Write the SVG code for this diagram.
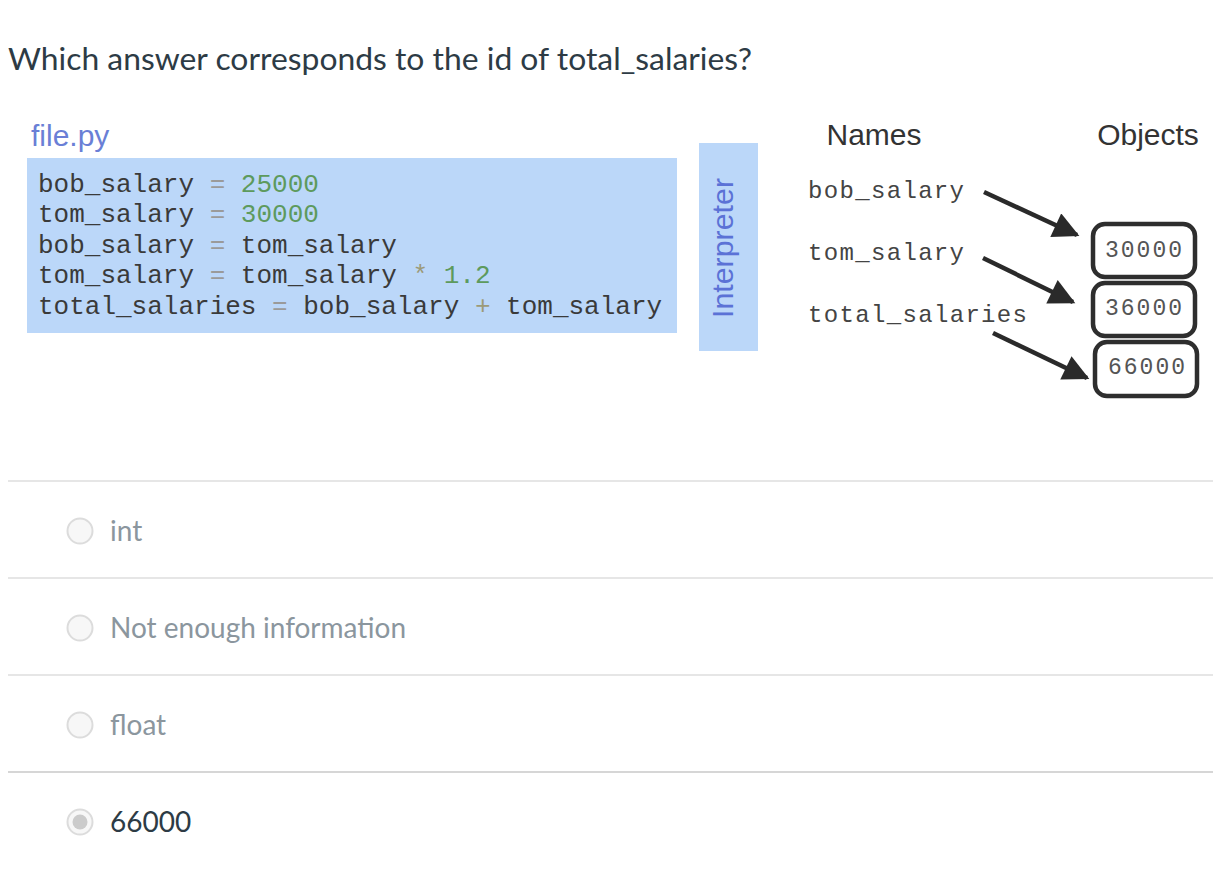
<svg xmlns="http://www.w3.org/2000/svg" width="1222" height="890" viewBox="0 0 1222 890">
<style>
.q{font-family:Lato,"Open Sans",sans-serif;}
.a{font-family:Arial,"Liberation Sans",sans-serif;}
.m{font-family:"Liberation Mono","Courier New",monospace;}
.code{font-size:26px;fill:#3a3a3a;}
.op{fill:#9a9a9a;}
.num{fill:#5d9a5d;}
.op2{fill:#9c9a78;}
.nm{font-size:24px;fill:#444;}
.obj{fill:none;stroke:#2e2e2e;stroke-width:4.5;}
.objt{font-size:23px;fill:#555;}
.sep{stroke:#e6e6e6;stroke-width:2;}
.radio{fill:#f7f7f7;stroke:#dcdcdc;stroke-width:2;}
.ans{font-size:28px;fill:#8b969e;}
.arr{stroke:#2a2a2a;stroke-width:4.5;fill:none;}
</style>
<defs>
<marker id="ah" viewBox="0 0 10 10" refX="9" refY="5" markerWidth="27" markerHeight="26" orient="auto" markerUnits="userSpaceOnUse">
<path d="M0,0 L10,5 L0,10 z" fill="#2a2a2a"/>
</marker>
</defs>
<rect width="1222" height="890" fill="#fff"/>
<text class="q" x="8" y="70" font-size="30" fill="#2d3b45" textLength="744" lengthAdjust="spacingAndGlyphs">Which answer corresponds to the id of total_salaries?</text>

<g id="file">
<text class="a" x="31" y="146" font-size="30" fill="#6a7fd6">file.py</text>
<rect x="27" y="158" width="650" height="175" fill="#bbd7f9"/>
<text class="m code" x="38" y="192"><tspan>bob_salary </tspan><tspan class="op">=</tspan><tspan class="num"> 25000</tspan></text>
<text class="m code" x="38" y="222"><tspan>tom_salary </tspan><tspan class="op">=</tspan><tspan class="num"> 30000</tspan></text>
<text class="m code" x="38" y="253"><tspan>bob_salary </tspan><tspan class="op">=</tspan><tspan> tom_salary</tspan></text>
<text class="m code" x="38" y="283"><tspan>tom_salary </tspan><tspan class="op">=</tspan><tspan> tom_salary </tspan><tspan class="op2">*</tspan><tspan class="num"> 1.2</tspan></text>
<text class="m code" x="38" y="314"><tspan>total_salaries </tspan><tspan class="op">=</tspan><tspan> bob_salary </tspan><tspan class="op2">+</tspan><tspan> tom_salary</tspan></text>
</g>

<g id="interpreter">
<rect x="699" y="143" width="59" height="208" fill="#bbd7f9"/>
<text class="a" transform="translate(733,248) rotate(-90)" font-size="29" fill="#5b72d6" text-anchor="middle" textLength="140" lengthAdjust="spacingAndGlyphs">Interpreter</text>
</g>

<g id="headers">
<text class="a" x="874" y="145" font-size="30" fill="#333" text-anchor="middle">Names</text>
<text class="a" x="1148" y="145" font-size="30" fill="#333" text-anchor="middle">Objects</text>
</g>

<g id="name-bob"><text class="m nm" x="808" y="198" textLength="156">bob_salary</text></g>
<g id="name-tom"><text class="m nm" x="808" y="260" textLength="156">tom_salary</text></g>
<g id="name-total"><text class="m nm" x="808" y="322" textLength="219">total_salaries</text></g>

<g id="obj-30000"><rect class="obj" x="1093" y="224" width="102" height="53" rx="12"/><text class="m objt" x="1105" y="257" textLength="77">30000</text></g>
<g id="obj-36000"><rect class="obj" x="1093" y="283" width="102" height="53" rx="12"/><text class="m objt" x="1105" y="315" textLength="77">36000</text></g>
<g id="obj-66000"><rect class="obj" x="1095" y="342" width="102" height="54" rx="12"/><text class="m objt" x="1108" y="374" textLength="77">66000</text></g>

<g id="connectors">
<line class="arr" x1="984" y1="192" x2="1077" y2="235" marker-end="url(#ah)"/>
<line class="arr" x1="983" y1="258" x2="1073" y2="302" marker-end="url(#ah)"/>
<line class="arr" x1="993" y1="333" x2="1087" y2="378" marker-end="url(#ah)"/>
</g>

<g id="answers">
<line class="sep" x1="8" y1="481" x2="1213" y2="481"/>
<line class="sep" x1="8" y1="578" x2="1213" y2="578"/>
<line class="sep" x1="8" y1="675" x2="1213" y2="675"/>
<line class="sep" x1="8" y1="772" x2="1213" y2="772" style="stroke:#d6d6d6"/>
<g id="opt-int"><circle class="radio" cx="80" cy="531" r="12.5"/><text class="q ans" x="110" y="541">int</text></g>
<g id="opt-nei"><circle class="radio" cx="80" cy="628" r="12.5"/><text class="q ans" x="110" y="638">Not enough information</text></g>
<g id="opt-float"><circle class="radio" cx="80" cy="725" r="12.5"/><text class="q ans" x="110" y="735">float</text></g>
<g id="opt-66000"><circle class="radio" cx="80" cy="822" r="12.5"/><circle cx="80" cy="822" r="7.5" fill="#cbcbcb"/><text class="q ans" x="110" y="832" style="fill:#2d3b45">66000</text></g>
</g>
</svg>
